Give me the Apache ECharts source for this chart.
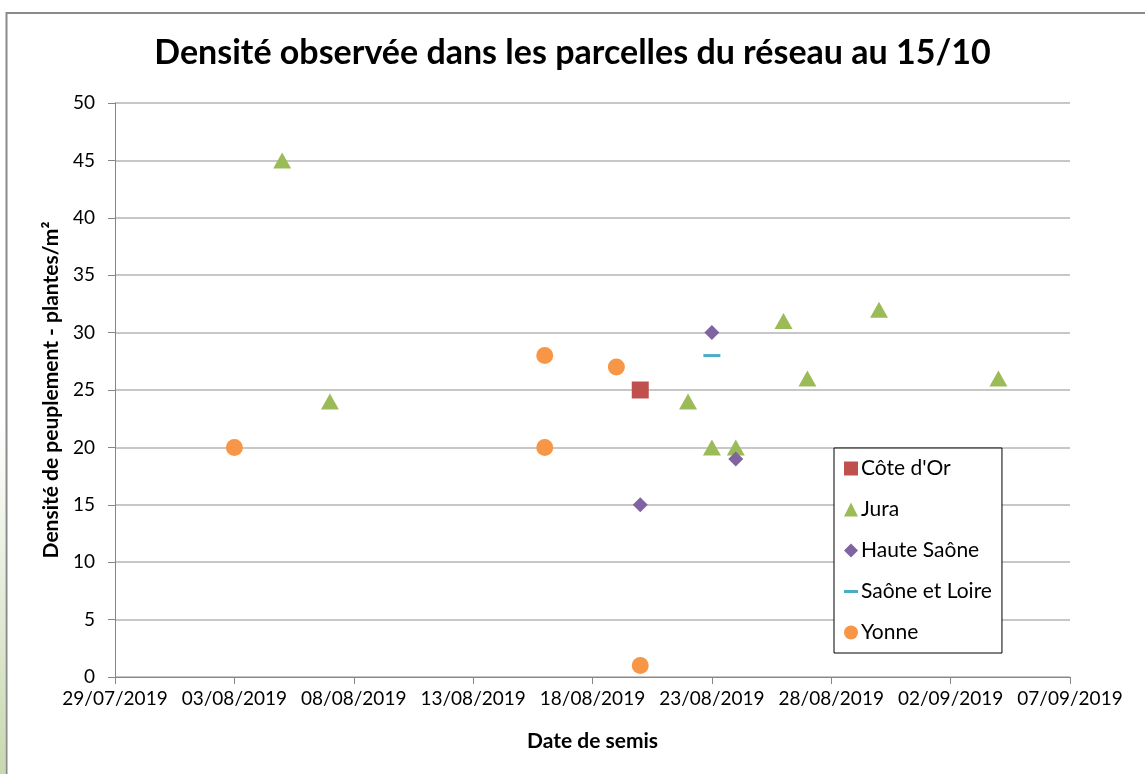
<!DOCTYPE html>
<html>
<head>
<meta charset="utf-8">
<script src="https://cdn.jsdelivr.net/npm/echarts@6/dist/echarts.min.js"></script>
<style>html,body{margin:0;padding:0;background:#fff}#c{width:1145px;height:774px}</style>
</head>
<body>
<div id="c"></div>
<script>
// ---- Data ----
const xTickLabels = ['29/07/2019','03/08/2019','08/08/2019','13/08/2019','18/08/2019','23/08/2019','28/08/2019','02/09/2019','07/09/2019'];
const yTickLabels = [0,5,10,15,20,25,30,35,40,45,50];

const coteDOrDates = ['20/08/2019'];
const coteDOrValues = [25];

const juraDates = ['05/08/2019','07/08/2019','22/08/2019','23/08/2019','24/08/2019','26/08/2019','27/08/2019','30/08/2019','04/09/2019'];
const juraValues = [45,24,24,20,20,31,26,32,26];

const hauteSaoneDates = ['20/08/2019','23/08/2019','24/08/2019'];
const hauteSaoneValues = [15,30,19];

const saoneLoireDates = ['23/08/2019'];
const saoneLoireValues = [28];

const yonneDates = ['03/08/2019','16/08/2019','16/08/2019','19/08/2019','20/08/2019'];
const yonneValues = [20,28,20,27,1];

// ---- helpers ----
function parseD(s){const p=s.split('/');return Date.UTC(+p[2],+p[1]-1,+p[0]);}
const base = parseD(xTickLabels[0]);
const DAY = 86400000;
function dayIdx(s){return Math.round((parseD(s)-base)/DAY);}
function fmt(d){const t=new Date(base+d*DAY);const dd=String(t.getUTCDate()).padStart(2,'0');const mm=String(t.getUTCMonth()+1).padStart(2,'0');return dd+'/'+mm+'/'+t.getUTCFullYear();}
function pts(dates,vals){return dates.map((d,i)=>[dayIdx(d),vals[i]]);}
const xMax = dayIdx(xTickLabels[xTickLabels.length-1]);

const FONT = 'Lato';
const dashIcon = 'path://M0,5.5h14v3h-14z M0,0h0.01v0.01h-0.01z M13.99,13.99h0.01v0.01h-0.01z';

const chart = echarts.init(document.getElementById('c'), null, {renderer:'canvas'});
chart.setOption({
  animation:false,
  backgroundColor:'#fff',
  textStyle:{fontFamily:FONT},
  graphic:[
    {type:'rect', left:0, top:420, shape:{width:5,height:354}, style:{fill:new echarts.graphic.LinearGradient(0,0,0,1,[{offset:0,color:'#ffffff'},{offset:1,color:'#c8d8b0'}])}, z:-1},
    {type:'rect', shape:{x:6.5,y:13,width:1300,height:900}, style:{fill:null,stroke:'#8a8a8a',lineWidth:2}, z:-1}
  ],
  title:{
    text:'Densité observée dans les parcelles du réseau au 15/10',
    left:'center', top:31,
    textStyle:{fontFamily:FONT,fontWeight:'bold',fontSize:34,color:'#000'}
  },
  grid:{left:115,right:75,top:103,bottom:97},
  legend:{
    orient:'vertical', left:834, top:448,
    padding:[10,10,10,10],
    backgroundColor:'#fff', borderColor:'#000', borderWidth:1,
    itemWidth:14, itemHeight:14, itemGap:20,
    textStyle:{fontFamily:FONT,fontSize:21,color:'#000',padding:[0,0,0,-2]},
    data:[
      {name:"Côte d'Or", icon:'rect'},
      {name:'Jura', icon:'triangle'},
      {name:'Haute Saône', icon:'diamond'},
      {name:'Saône et Loire', icon:dashIcon},
      {name:'Yonne', icon:'circle'}
    ]
  },
  xAxis:{
    type:'value', min:0, max:xMax, interval:5,
    name:'Date de semis', nameLocation:'middle', nameGap:54,
    nameTextStyle:{fontFamily:FONT,fontWeight:'bold',fontSize:21,color:'#000'},
    axisLine:{show:true,lineStyle:{color:'#868686',width:1}},
    axisTick:{show:true,length:7,lineStyle:{color:'#868686'}},
    splitLine:{show:false},
    axisLabel:{fontFamily:FONT,fontSize:19,color:'#000',margin:12,formatter:v=>fmt(v)}
  },
  yAxis:{
    type:'value', min:yTickLabels[0], max:yTickLabels[yTickLabels.length-1], interval:5,
    name:'Densité de peuplement - plantes/m²', nameLocation:'middle', nameGap:52,
    nameTextStyle:{fontFamily:FONT,fontWeight:'bold',fontSize:21,color:'#000'},
    axisLine:{show:true,lineStyle:{color:'#868686',width:1}},
    axisTick:{show:true,length:7,lineStyle:{color:'#868686'}},
    splitLine:{show:true,lineStyle:{color:'#b4b4b4',width:1.5}},
    axisLabel:{fontFamily:FONT,fontSize:19,color:'#000',margin:20}
  },
  series:[
    {name:"Côte d'Or", type:'scatter', symbol:'rect', symbolSize:17, itemStyle:{color:'#c0504d',opacity:1}, data:pts(coteDOrDates,coteDOrValues)},
    {name:'Jura', type:'scatter', symbol:'triangle', symbolSize:[18,16], itemStyle:{color:'#9bbb59',opacity:1}, data:pts(juraDates,juraValues)},
    {name:'Haute Saône', type:'scatter', symbol:'diamond', symbolSize:15, itemStyle:{color:'#8064a2',opacity:1}, data:pts(hauteSaoneDates,hauteSaoneValues)},
    {name:'Saône et Loire', type:'scatter', symbol:'rect', symbolSize:[17,3], itemStyle:{color:'#4bacc6',opacity:1}, data:pts(saoneLoireDates,saoneLoireValues)},
    {name:'Yonne', type:'scatter', symbol:'circle', symbolSize:17, itemStyle:{color:'#f79646',opacity:1}, data:pts(yonneDates,yonneValues)}
  ]
});
</script>
</body>
</html>
